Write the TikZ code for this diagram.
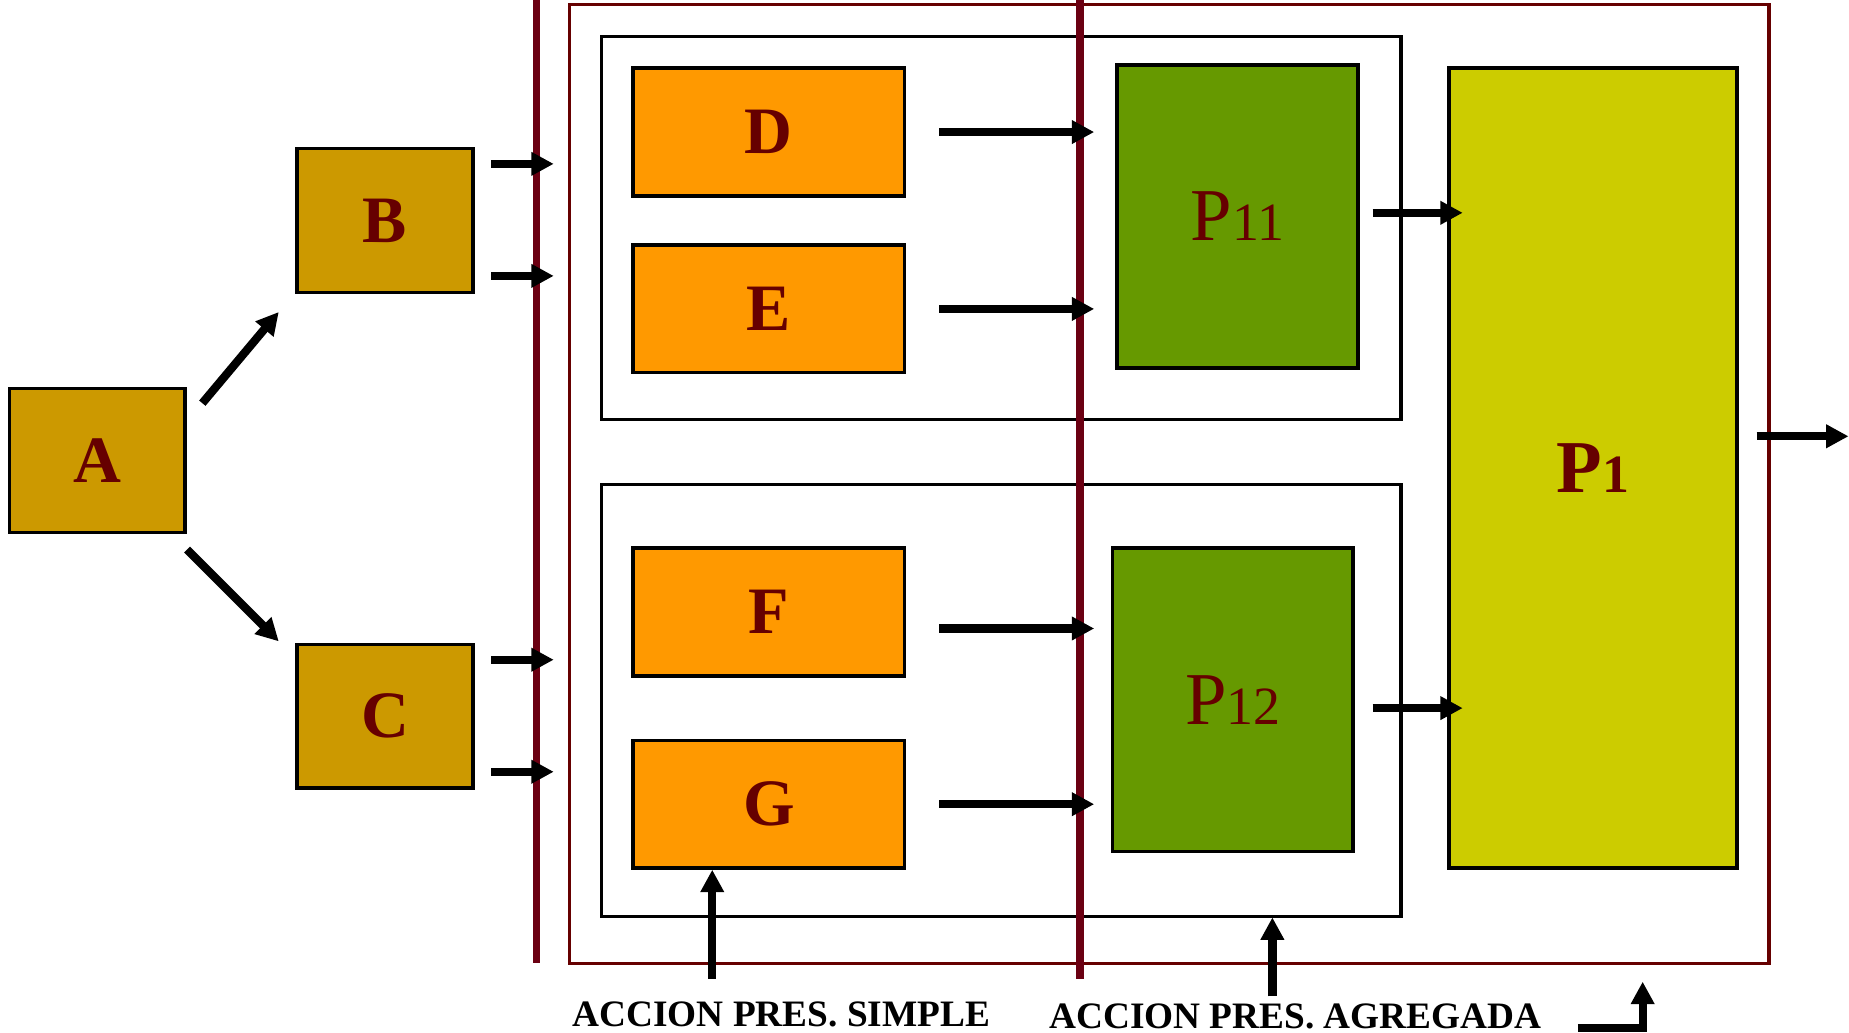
\documentclass[tikz,border=0pt]{standalone}
\usepackage{fontspec}
\setmainfont{Liberation Serif}
\usepackage{xcolor}
\usepackage{tikz}
\usetikzlibrary{arrows.meta,positioning,calc}
\definecolor{gold}{HTML}{CC9900}
\definecolor{naranja}{HTML}{FF9900}
\definecolor{verde}{HTML}{669900}
\definecolor{amarillo}{HTML}{CCCC00}
\definecolor{granate}{HTML}{660000}
\definecolor{barra}{HTML}{6B0012}
\newcommand{\pname}[1]{{\fontsize{18}{18}\selectfont P}{\fontsize{13}{13}\selectfont #1}}

\begin{document}
\begin{tikzpicture}[
      every node/.style={text=granate},
      box/.style={draw, line width=0.9pt, inner sep=0pt,
                  font=\fontsize{16}{16}\selectfont\bfseries},
      ent/.style={box, fill=gold, minimum width=1.49cm, minimum height=1.22cm},
      act/.style={box, fill=naranja, minimum width=2.30cm, minimum height=1.08cm},
      sub/.style={box, fill=verde, minimum width=2.04cm, minimum height=2.57cm, font=\mdseries},
      frame/.style={draw, line width=0.8pt},
      sep/.style={draw=barra, line width=1.8pt},
      lbl/.style={text=black, inner sep=0pt, font=\fontsize{9}{9}\selectfont\bfseries},
      arr/.style={-{Triangle[length=1.9mm,width=1.9mm]}, line width=2pt}
  ]
    \useasboundingbox (0,0) rectangle (15.68,8.76);

    % --- Frames ---
    \draw[draw=granate, line width=0.8pt] (4.83,8.72) rectangle (15.00,0.59);
    \draw[frame] (5.10,8.45) rectangle (11.88,5.20);
    \draw[frame] (5.10,4.65) rectangle (11.88,0.99);

    % --- Left side ---
    \node[ent] (A) at (0.825,4.855) {A};
    \node[ent] (B) at (3.265,6.89) {B};
    \node[ent] (C) at (3.265,2.685) {C};
    \draw[arr] ([shift={(0.13,-0.14)}]A.north east) -- ([shift={(-0.14,-0.15)}]B.south west);
    \draw[arr] ([shift={(0,-0.13)}]A.south east) -- ([shift={(-0.14,0.01)}]C.north west);

    % --- Actions ---
    \node[act] (D) at (6.52,7.64) {D};
    \node[act] (E) at (6.52,6.14) {E};
    \node[act] (F) at (6.52,3.57) {F};
    \node[act] (G) at (6.52,1.94) {G};

    % --- Aggregated ---
    \node[sub] (P11) at (10.495,6.925) {\pname{11}};
    \node[sub] (P12) at (10.455,2.825) {\pname{12}};
    \node[box, fill=amarillo, minimum width=2.44cm, minimum height=6.78cm] (P1)
          at (13.51,4.79) {\pname{1}};

    % --- Separators ---
    \draw[sep] (4.55,8.76) -- (4.55,0.59);
    \draw[sep] (9.16,8.76) -- (9.16,0.46);

    % B, C into the frame
    \foreach \n in {B,C} {
      \draw[arr] ([shift={(0.14,0.48)}]\n.east) -- ++(0.53,0);
      \draw[arr] ([shift={(0.14,-0.47)}]\n.east) -- ++(0.53,0);
    }

    % actions to P11 / P12
    \draw[arr] ([xshift=0.28cm]D.east) -- ([xshift=-0.18cm]D.east -| P11.west);
    \draw[arr] ([xshift=0.28cm]E.east) -- ([xshift=-0.18cm]E.east -| P11.west);
    \draw[arr] ([shift={(0.28,-0.14)}]F.east) -- ([shift={(-0.14,-0.14)}]F.east -| P12.west);
    \draw[arr] ([xshift=0.28cm]G.east) -- ([xshift=-0.14cm]G.east -| P12.west);

    \draw[arr] ([shift={(0.11,0.03)}]P11.east) -- ([shift={(0.13,0.03)}]P11.east -| P1.west);
    \draw[arr] ([shift={(0.15,-0.07)}]P12.east) -- ([shift={(0.13,-0.07)}]P12.east -| P1.west);
    \draw[arr] ([shift={(0.15,0.27)}]P1.east) -- ++(0.78,0);

    % --- Labels ---
    \node[lbl] (simple) at (6.625,0.16) {ACCION PRES. SIMPLE};
    \node[lbl] (agreg) at (10.985,0.14) {ACCION PRES. AGREGADA};
    \coordinate (s0) at (6.04,0.46);
    \coordinate (a0) at (10.79,0.31);
    \draw[arr] (s0) -- (s0 |- G.south);
    \draw[arr] (a0) -- (10.79,0.98);
    \draw[arr, line join=miter] (13.38,0.04) -- (13.93,0.04) -- (13.93,0.435);

  \end{tikzpicture}
\end{document}
